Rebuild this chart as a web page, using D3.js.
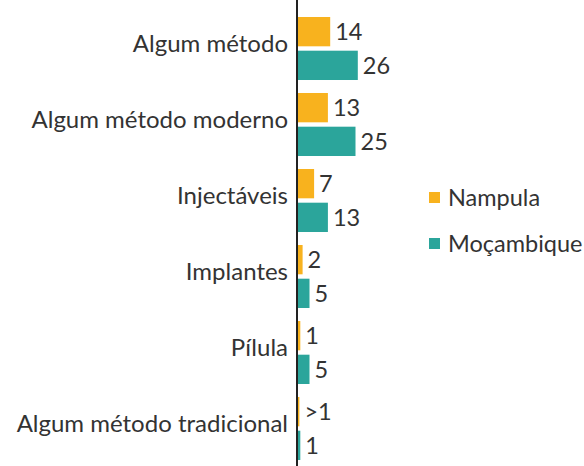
<!DOCTYPE html>
<html>
<head>
  <meta charset="utf-8">
  <script src="https://d3js.org/d3.v7.min.js"></script>
  <style>
    body { margin: 0; background: #fff; }
    text { font-family: Lato, "Open Sans", sans-serif; fill: #333; }
  </style>
</head>
<body>
  <div id="chart"></div>
  <script>
    var categories = ["Algum método", "Algum método moderno", "Injectáveis", "Implantes", "Pílula", "Algum método tradicional"];
    var seriesNames = ["Nampula", "Moçambique"];
    var nampula = [14, 13, 7, 2, 1, 0.6];
    var mocambique = [26, 25, 13, 5, 5, 1];
    var nampulaLabels = ["14", "13", "7", "2", "1", ">1"];
    var mocambiqueLabels = ["26", "25", "13", "5", "5", "1"];
    var colors = ["#F8B21E", "#2BA59B"];

    var width = 584, height = 466;

    var svg = d3.select("#chart")
                .append("svg")
                .attr("width", width)
                .attr("height", height);

    var rows = categories.map(function(c, i) {
      return {
        cat: c,
        values: [
          { name: seriesNames[0], value: nampula[i], label: nampulaLabels[i] },
          { name: seriesNames[1], value: mocambique[i], label: mocambiqueLabels[i] }
        ]
      };
    });

    var yScale = d3.scaleBand()
                   .domain(categories)
                   .range([10.5, 466.5])
                   .paddingInner(0.171)
                   .paddingOuter(0.0855);

    var ySub = d3.scaleBand()
                 .domain(seriesNames)
                 .range([0, yScale.bandwidth()])
                 .paddingInner(0.13);

    var xScale = d3.scaleLinear()
                   .domain([0, 30])
                   .range([298, 367]);

    var color = d3.scaleOrdinal().domain(seriesNames).range(colors);

    var groups = svg.selectAll(".group")
                    .data(rows)
                    .enter()
                    .append("g")
                    .attr("class", "group")
                    .attr("transform", d => `translate(0, ${yScale(d.cat)})`);

    groups.selectAll("rect")
          .data(d => d.values)
          .enter()
          .append("rect")
          .attr("x", xScale(0))
          .attr("y", d => ySub(d.name))
          .attr("width", d => xScale(d.value) - xScale(0))
          .attr("height", ySub.bandwidth())
          .attr("fill", d => color(d.name));

    groups.selectAll(".val")
          .data(d => d.values)
          .enter()
          .append("text")
          .attr("class", "val")
          .attr("x", d => xScale(d.value) + 5)
          .attr("y", d => ySub(d.name) + ySub.bandwidth() / 2)
          .attr("dy", "0.36em")
          .style("font-size", "23.5px")
          .text(d => d.label);

    // category labels
    var yAxis = d3.axisLeft(yScale).tickSize(0).tickPadding(9);
    var axisG = svg.append("g")
       .attr("transform", `translate(${xScale(0) - 1}, 0)`)
       .call(yAxis);
    axisG.select(".domain").remove();
    axisG.selectAll("text")
         .attr("dy", "0.16em")
         .style("font-size", "24px")
         .style("font-family", "Lato, 'Open Sans', sans-serif")
         .attr("fill", "#333");

    svg.append("line")
       .attr("x1", xScale(0) - 1).attr("x2", xScale(0) - 1)
       .attr("y1", 0).attr("y2", height)
       .attr("stroke", "#222")
       .attr("stroke-width", 2);

    // legend
    var legend = svg.selectAll(".legend")
                    .data(seriesNames)
                    .enter()
                    .append("g")
                    .attr("class", "legend")
                    .attr("transform", (d, i) => `translate(429, ${192 + i * 46})`);

    legend.append("rect")
          .attr("width", 11)
          .attr("height", 11)
          .attr("fill", d => color(d));

    legend.append("text")
          .attr("x", 19)
          .attr("y", 5.5)
          .attr("dy", "0.36em")
          .style("font-size", "23.5px")
          .text(d => d);
  </script>
</body>
</html>
